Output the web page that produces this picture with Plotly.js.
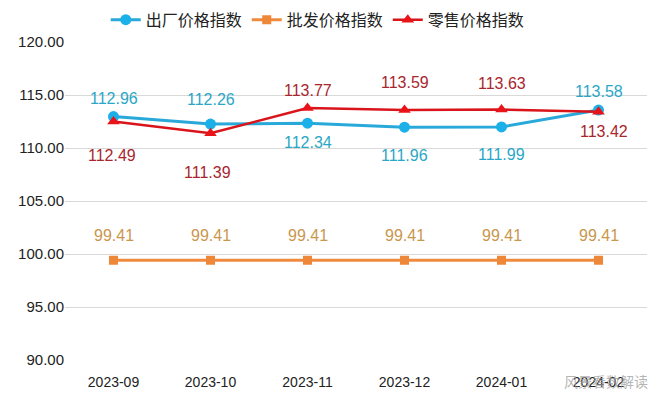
<!DOCTYPE html>
<html><head><meta charset="utf-8">
<script src="https://cdn.plot.ly/plotly-3.0.1.min.js"></script>
<style>body{margin:0;background:#fff}#chart{width:660px;height:395px}</style>
</head><body><div id="chart"></div>
<script>
const months = ["2023-09","2023-10","2023-11","2023-12","2024-01","2024-02"];
const factory = [112.96,112.26,112.34,111.96,111.99,113.58];
const wholesale = [99.41,99.41,99.41,99.41,99.41,99.41];
const retail = [112.49,111.39,113.77,113.59,113.63,113.42];
const yTicks = [90,95,100,105,110,115,120];

// label offsets in px (styling only)
const factoryShift = [18,25,-19,-28,-28,19];
const retailShift = [-34,-39,18,27,26,-20];
const retailXShift = [-2,-3,0,0,0,5];
const wholesaleShift = [25,25,25,25,25,25];

const numFamily = "Liberation Sans, Arial, sans-serif";
const fmt = v => v.toFixed(2);
const traces = [
 {x:months,y:factory,name:"出厂价格指数",mode:"lines+markers",
  line:{color:"#29a9d9",width:3},marker:{symbol:"circle",size:11,color:"#1bb0e8"}},
 {x:months,y:wholesale,name:"批发价格指数",mode:"lines+markers",
  line:{color:"#f08a3e",width:3},marker:{symbol:"square",size:9,color:"#ee8738"}},
 {x:months,y:retail,name:"零售价格指数",mode:"lines+markers",
  line:{color:"#d9141a",width:2.5},marker:{symbol:"triangle-up",size:11,color:"#e8141a"}}
];
function labels(vals, shifts, color, xs){
  return vals.map((v,i)=>({x:months[i],y:v,xref:"x",yref:"y",text:fmt(v),showarrow:false,
    yshift:shifts[i],xshift:xs?xs[i]:0,font:{family:numFamily,size:16,color:color}}));
}
const anns = [].concat(
  labels(factory,factoryShift,"#2aa7c6"),
  labels(wholesale,wholesaleShift,"#c9974e"),
  labels(retail,retailShift,"#a8262e",retailXShift),
  [{xref:"paper",yref:"paper",x:1.005,y:-0.066,xanchor:"right",yanchor:"middle",text:"风景看数解读",showarrow:false,
    font:{family:"Noto Sans CJK SC",size:14,color:"rgba(160,160,160,0.8)"}}]
);
const layout = {
 width:660,height:395,margin:{l:65,r:13,t:42,b:35,autoexpand:false},
 paper_bgcolor:"#fff",plot_bgcolor:"#fff",
 showlegend:true,
 legend:{orientation:"h",x:0.07,xanchor:"left",yref:"container",y:0.95,yanchor:"middle",font:{family:"Noto Sans CJK SC",size:16,color:"#222"},tracegroupgap:0},
 xaxis:{type:"category",range:[-0.5,5.5],showgrid:false,zeroline:false,showline:false,ticks:"",ticklabelstandoff:12,
   tickfont:{family:numFamily,size:14,color:"#222"}},
 yaxis:{range:[90,120],tickvals:yTicks,ticktext:yTicks.map(v=>v.toFixed(2)),showgrid:true,gridcolor:"#d9d9d9",gridwidth:1,zeroline:false,showline:false,ticks:"",
   tickfont:{family:numFamily,size:15,color:"#222"}},
 annotations:anns
};
Plotly.newPlot("chart",traces,layout,{displayModeBar:false});
</script></body></html>
